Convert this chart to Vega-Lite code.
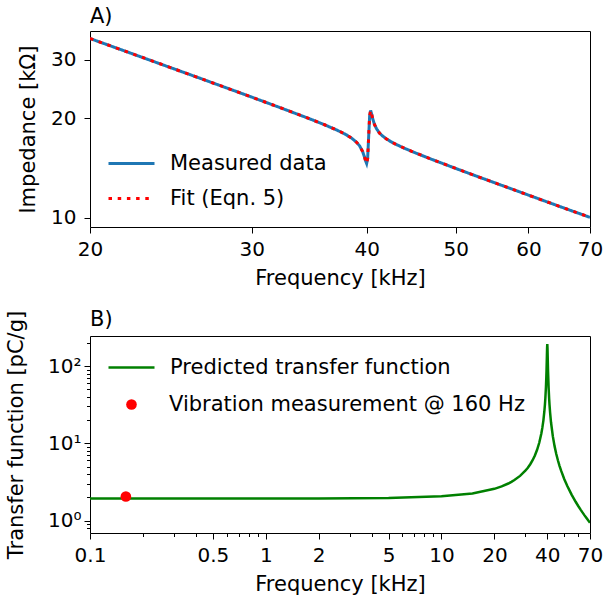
{
  "$schema": "https://vega.github.io/schema/vega-lite/v6.json",
  "padding": {"left": 5, "top": 5, "right": 5, "bottom": 0},
  "background": "white",
  "resolve": {"scale": {"color": "independent", "strokeDash": "independent", "shape": "independent"}, "legend": {"color": "independent", "strokeDash": "independent", "shape": "independent"}},
  "config": {
    "font": "DejaVu Sans",
    "view": {"stroke": "black", "strokeWidth": 1},
    "axis": {"domain": false, "grid": false, "tickColor": "black", "tickSize": 6, "tickWidth": 1, "labelFontSize": 20, "labelColor": "black", "titleFontSize": 21, "titleFontWeight": "normal", "titleColor": "black", "labelPadding": 6, "labelFont": "DejaVu Sans", "titleFont": "DejaVu Sans", "labelFlush": false, "labelOverlap": false},
    "legend": {"labelFontSize": 21, "labelColor": "black", "labelFont": "DejaVu Sans", "labelLimit": 400},
    "title": {"fontSize": 21, "fontWeight": "normal", "anchor": "start", "frame": "group", "offset": 4, "color": "black", "font": "DejaVu Sans"},
    "concat": {"spacing": 19}
  },
  "datasets": {
    "imp": [
      {"f": 20, "measured": 34.83, "fit": 34.83},
      {"f": 22, "measured": 31.66, "fit": 31.66},
      {"f": 24, "measured": 29.0, "fit": 29.0},
      {"f": 26, "measured": 26.76, "fit": 26.76},
      {"f": 28, "measured": 24.83, "fit": 24.83},
      {"f": 30, "measured": 23.15, "fit": 23.15},
      {"f": 32, "measured": 21.66, "fit": 21.66},
      {"f": 34, "measured": 20.33, "fit": 20.33},
      {"f": 35, "measured": 19.71, "fit": 19.71},
      {"f": 36, "measured": 19.1, "fit": 19.1},
      {"f": 37, "measured": 18.48, "fit": 18.48},
      {"f": 37.5, "measured": 18.16, "fit": 18.16},
      {"f": 38, "measured": 17.82, "fit": 17.82},
      {"f": 38.5, "measured": 17.42, "fit": 17.42},
      {"f": 39, "measured": 16.91, "fit": 16.91},
      {"f": 39.3, "measured": 16.49, "fit": 16.49},
      {"f": 39.6, "measured": 15.85, "fit": 15.85},
      {"f": 39.8, "measured": 15.2, "fit": 15.2},
      {"f": 39.9, "measured": 14.83, "fit": 14.83},
      {"f": 40.0, "measured": 14.58, "fit": 14.58},
      {"f": 40.1, "measured": 15.09, "fit": 15.09},
      {"f": 40.2, "measured": 17.5, "fit": 17.5},
      {"f": 40.3, "measured": 20.3, "fit": 20.3},
      {"f": 40.4, "measured": 21.1, "fit": 21.1},
      {"f": 40.5, "measured": 20.6, "fit": 20.6},
      {"f": 40.6, "measured": 19.98, "fit": 19.98},
      {"f": 40.8, "measured": 19.11, "fit": 19.11},
      {"f": 41, "measured": 18.58, "fit": 18.58},
      {"f": 41.3, "measured": 18.04, "fit": 18.04},
      {"f": 41.6, "measured": 17.69, "fit": 17.69},
      {"f": 42, "measured": 17.33, "fit": 17.33},
      {"f": 42.5, "measured": 16.98, "fit": 16.98},
      {"f": 43, "measured": 16.69, "fit": 16.69},
      {"f": 44, "measured": 16.2, "fit": 16.2},
      {"f": 45, "measured": 15.78, "fit": 15.78},
      {"f": 47, "measured": 15.04, "fit": 15.04},
      {"f": 50, "measured": 14.09, "fit": 14.09},
      {"f": 53, "measured": 13.27, "fit": 13.27},
      {"f": 56, "measured": 12.55, "fit": 12.55},
      {"f": 60, "measured": 11.7, "fit": 11.7},
      {"f": 65, "measured": 10.79, "fit": 10.79},
      {"f": 70, "measured": 10.02, "fit": 10.02}
    ],
    "tf": [
      {"f": 0.1, "h": 1.93},
      {"f": 0.2, "h": 1.93},
      {"f": 0.5, "h": 1.9303},
      {"f": 1, "h": 1.9312},
      {"f": 2, "h": 1.9348},
      {"f": 5, "h": 1.9606},
      {"f": 10, "h": 2.0587},
      {"f": 15, "h": 2.2458},
      {"f": 20, "h": 2.5733},
      {"f": 22, "h": 2.767},
      {"f": 24, "h": 3.016},
      {"f": 25, "h": 3.1672},
      {"f": 26, "h": 3.342},
      {"f": 28, "h": 3.7843},
      {"f": 30, "h": 4.4114},
      {"f": 31, "h": 4.833},
      {"f": 32, "h": 5.3611},
      {"f": 33, "h": 6.043},
      {"f": 34, "h": 6.955},
      {"f": 35, "h": 8.2347},
      {"f": 36, "h": 10.158},
      {"f": 37, "h": 13.368},
      {"f": 37.5, "h": 15.94},
      {"f": 38, "h": 19.70},
      {"f": 38.5, "h": 26.0},
      {"f": 38.8, "h": 32.23},
      {"f": 39, "h": 38.35},
      {"f": 39.3, "h": 53.53},
      {"f": 39.5, "h": 72.19},
      {"f": 39.6, "h": 86.84},
      {"f": 39.8, "h": 136.98},
      {"f": 39.9, "h": 173.0},
      {"f": 40, "h": 193.0},
      {"f": 40.1, "h": 172.2},
      {"f": 40.2, "h": 135.96},
      {"f": 40.4, "h": 85.8},
      {"f": 40.7, "h": 52.52},
      {"f": 41, "h": 37.37},
      {"f": 41.2, "h": 31.25},
      {"f": 41.5, "h": 25.03},
      {"f": 42, "h": 18.73},
      {"f": 43, "h": 12.37},
      {"f": 44, "h": 9.19},
      {"f": 45, "h": 7.266},
      {"f": 46, "h": 5.984},
      {"f": 47, "h": 5.071},
      {"f": 48, "h": 4.386},
      {"f": 50, "h": 3.431},
      {"f": 52, "h": 2.797},
      {"f": 55, "h": 2.167},
      {"f": 58, "h": 1.751},
      {"f": 60, "h": 1.544},
      {"f": 62, "h": 1.376},
      {"f": 65, "h": 1.176},
      {"f": 67, "h": 1.069},
      {"f": 70, "h": 0.936}
    ],
    "pt": [
      {"f": 0.16, "h": 2.05}
    ]
  },
  "vconcat": [
    {
      "title": {"text": "A)"},
      "width": 500,
      "height": 196,
      "data": {"name": "imp"},
      "layer": [
        {
          "mark": {"type": "line", "strokeWidth": 3, "clip": true},
          "encoding": {
            "x": {"field": "f", "type": "quantitative", "title": "Frequency [kHz]", "scale": {"type": "log", "domain": [20, 70], "nice": false}, "axis": {"values": [20, 30, 40, 50, 60, 70], "format": "d", "titlePadding": 8}},
            "y": {"field": "measured", "type": "quantitative", "title": "Impedance [kΩ]", "scale": {"type": "log", "domain": [9.37, 36.7], "nice": false}, "axis": {"values": [10, 20, 30], "format": "d", "labelPadding": 8, "titlePadding": 12}},
            "color": {"datum": "Measured data", "scale": {"domain": ["Measured data", "Fit (Eqn. 5)"], "range": ["#1f77b4", "#ff0000"]}, "legend": {"orient": "none", "legendX": 17, "legendY": 108, "title": null, "symbolType": "stroke", "symbolSize": 2116, "symbolStrokeWidth": 3, "labelOffset": 14, "rowPadding": -4, "padding": 0}},
            "strokeDash": {"datum": "Measured data", "scale": {"domain": ["Measured data", "Fit (Eqn. 5)"], "range": [[1, 0], [3.5, 5.7]]}, "legend": {"orient": "none", "legendX": 17, "legendY": 108, "title": null, "symbolType": "stroke", "symbolSize": 2116, "symbolStrokeWidth": 3, "labelOffset": 14, "rowPadding": -4, "padding": 0}}
          }
        },
        {
          "mark": {"type": "line", "strokeWidth": 3, "clip": true},
          "encoding": {
            "x": {"field": "f", "type": "quantitative", "title": "Frequency [kHz]"},
            "y": {"field": "fit", "type": "quantitative", "title": "Impedance [kΩ]"},
            "color": {"datum": "Fit (Eqn. 5)"},
            "strokeDash": {"datum": "Fit (Eqn. 5)"}
          }
        }
      ]
    },
    {
      "title": {"text": "B)", "offset": -20},
      "width": 500,
      "height": 197,
      "layer": [
        {
          "data": {"name": "tf"},
          "mark": {"type": "line", "strokeWidth": 2.5, "clip": true},
          "encoding": {
            "x": {"field": "f", "type": "quantitative", "title": "Frequency [kHz]", "scale": {"type": "log", "domain": [0.1, 70], "nice": false}, "axis": {"values": [0.1, 0.5, 1, 2, 5, 10, 20, 40, 70], "format": "~g", "titlePadding": 8}},
            "y": {"field": "h", "type": "quantitative", "title": "Transfer function [pC/g]", "scale": {"type": "log", "domain": [0.69, 245], "nice": false}, "axis": {"values": [1, 10, 100], "labelExpr": "datum.value == 1 ? '10⁰' : datum.value == 10 ? '10¹' : '10²'", "labelPadding": 3, "titlePadding": 21}},
            "color": {"datum": "Predicted transfer function", "scale": {"domain": ["Predicted transfer function"], "range": ["#008000"]}, "legend": {"orient": "none", "legendX": 17, "legendY": 7, "title": null, "symbolType": "stroke", "symbolSize": 2116, "symbolStrokeWidth": 2.5, "labelOffset": 14, "padding": 0}}
          }
        },
        {
          "data": {"name": "pt"},
          "mark": {"type": "point", "filled": true, "size": 113, "opacity": 1, "color": "#ff0000"},
          "encoding": {
            "x": {"field": "f", "type": "quantitative", "title": null, "axis": {"orient": "bottom", "values": [0.2, 0.3, 0.4, 0.6, 0.7, 0.8, 0.9, 3, 4, 6, 7, 8, 9, 30, 50, 60], "labels": false, "tickSize": 3.5, "title": null}},
            "y": {"field": "h", "type": "quantitative", "title": null, "axis": {"orient": "left", "values": [0.8, 0.9, 2, 3, 4, 5, 6, 7, 8, 9, 20, 30, 40, 50, 60, 70, 80, 90, 200], "labels": false, "tickSize": 3.5, "title": null}},
            "shape": {"datum": "Vibration measurement @ 160 Hz", "scale": {"domain": ["Vibration measurement @ 160 Hz"], "range": ["circle"]}, "legend": {"orient": "none", "legendX": 31, "legendY": 58, "title": null, "symbolSize": 113, "symbolFillColor": "#ff0000", "symbolStrokeColor": "#ff0000", "symbolStrokeWidth": 0, "symbolOpacity": 1, "labelOffset": 27, "padding": 0}}
          }
        }
      ],
      "resolve": {"axis": {"x": "independent", "y": "independent"}}
    }
  ]
}
